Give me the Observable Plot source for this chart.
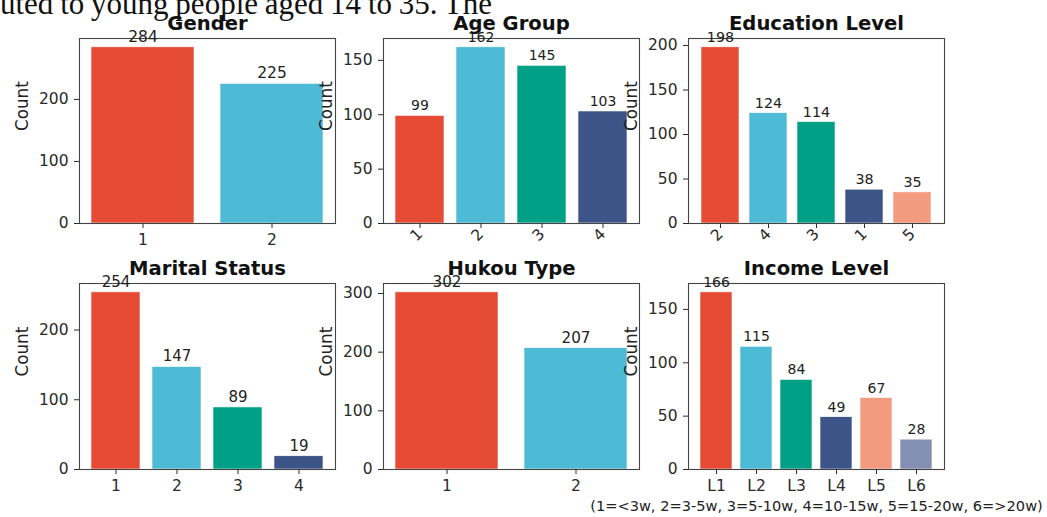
<!DOCTYPE html>
<html><head><meta charset="utf-8">
<script src="https://cdn.jsdelivr.net/npm/d3@7"></script>
<script src="https://cdn.jsdelivr.net/npm/@observablehq/plot@0.6"></script>
<style>
html,body{margin:0;padding:0;background:#fff;}
#root{position:relative;width:1047px;height:517px;overflow:hidden;background:#fff;}
.panel{position:absolute;}
</style></head><body><div id="root"></div>
<script>
// ---- data ----
const palette = ["#E64B35", "#4DBBD5", "#00A087", "#3C5488", "#F39B7F", "#8491B4"];

const genderCats = ["1", "2"];
const genderCounts = [284, 225];
const genderTicks = [0, 100, 200];

const ageCats = ["1", "2", "3", "4"];
const ageCounts = [99, 162, 145, 103];
const ageTicks = [0, 50, 100, 150];

const eduCats = ["2", "4", "3", "1", "5"];
const eduCounts = [198, 124, 114, 38, 35];
const eduTicks = [0, 50, 100, 150, 200];

const maritalCats = ["1", "2", "3", "4"];
const maritalCounts = [254, 147, 89, 19];
const maritalTicks = [0, 100, 200];

const hukouCats = ["1", "2"];
const hukouCounts = [302, 207];
const hukouTicks = [0, 100, 200, 300];

const incomeCats = ["L1", "L2", "L3", "L4", "L5", "L6"];
const incomeCounts = [166, 115, 84, 49, 67, 28];
const incomeTicks = [0, 50, 100, 150];

const panelTitles = ["Gender", "Age Group", "Education Level", "Marital Status", "Hukou Type", "Income Level"];
const yLabel = "Count";
const incomeNote = "(1=<3w, 2=3-5w, 3=5-10w, 4=10-15w, 5=15-20w, 6=>20w)";
const bodyText = "uted to young people aged 14 to 35. The";

// ---- layout ----
const root = document.getElementById("root");
const FONT = "'DejaVu Sans', sans-serif";
const TICK_FS = "15.5px";

function panel(o) {
  const n = o.cats.length;
  const data = o.cats.map((c, i) => ({cat: c, count: o.counts[i], color: palette[i]}));
  const ML = 75, MR = o.mr ?? 30, MT = 40, MB = 50, W = 256, H = o.h;
  const max = d3.max(o.counts) * 1.05;
  const marks = [
    Plot.barY(data, {x: "cat", y: "count", fill: "color", stroke: "white", strokeWidth: 0.6}),
    Plot.frame({stroke: "#444", strokeWidth: 1.1}),
    Plot.axisY({ticks: o.ticks, tickSize: 5, tickPadding: 6, label: null, fontSize: TICK_FS}),
    Plot.axisX({tickSize: 5, tickPadding: o.rot ? 3 : 5, tickRotate: o.rot ? -45 : 0,
      ...(o.rot ? {textAnchor: "end"} : {}), label: null, fontSize: TICK_FS}),
    Plot.text(data, {x: "cat", y: "count", text: d => String(d.count), dy: -5.5, lineAnchor: "bottom", fontSize: o.vs, fill: "#222"}),
    Plot.text([o.title], {text: d => d, frameAnchor: "top", dy: -9, lineAnchor: "bottom", fontWeight: "bold", fontSize: "19.6px", fill: "#111"}),
    Plot.text([yLabel], {text: d => d, frameAnchor: "left", dx: -57, rotate: -90, fontSize: "16.8px", fill: "#222"})
  ];
  if (o.note) marks.push(Plot.text([o.note], {text: d => d, frameAnchor: "bottom", dy: 41, lineAnchor: "bottom", fontSize: "14.6px", fill: "#222"}));
  const svg = Plot.plot({
    width: ML + W + MR, height: MT + H + MB,
    marginLeft: ML, marginRight: MR, marginTop: MT, marginBottom: MB,
    style: {fontFamily: FONT, fontSize: "14px", color: "#2a2a2a", background: "transparent", overflow: "visible"},
    x: {domain: o.cats, paddingInner: 0.2, paddingOuter: 0.05 * (n - 0.2), label: null},
    y: {domain: [0, max], label: null},
    color: {type: "identity"},
    marks
  });
  svg.classList.add("panel");
  svg.style.left = (o.left - ML) + "px";
  svg.style.top = (o.top - MT) + "px";
  root.appendChild(svg);
}

const colLeft = [79, 383, 688];
const rowTop = [38, 283];
const rowH = [185, 186];

panel({title: panelTitles[0], cats: genderCats, counts: genderCounts, ticks: genderTicks, left: colLeft[0], top: rowTop[0], h: rowH[0], vs: "15.5px"});
panel({title: panelTitles[1], cats: ageCats, counts: ageCounts, ticks: ageTicks, left: colLeft[1], top: rowTop[0], h: rowH[0], vs: "14px", rot: true});
panel({title: panelTitles[2], cats: eduCats, counts: eduCounts, ticks: eduTicks, left: colLeft[2], top: rowTop[0], h: rowH[0], vs: "14.3px", rot: true});
panel({title: panelTitles[3], cats: maritalCats, counts: maritalCounts, ticks: maritalTicks, left: colLeft[0], top: rowTop[1], h: rowH[1], vs: "15px"});
panel({title: panelTitles[4], cats: hukouCats, counts: hukouCounts, ticks: hukouTicks, left: colLeft[1], top: rowTop[1], h: rowH[1], vs: "15.2px"});
panel({title: panelTitles[5], cats: incomeCats, counts: incomeCounts, ticks: incomeTicks, left: colLeft[2], top: rowTop[1], h: rowH[1], vs: "14px", note: incomeNote, mr: 110});

// ---- cropped body text at top ----
const headSvg = d3.select(root).append("svg")
  .attr("width", 1047).attr("height", 22)
  .style("position", "absolute").style("left", "0px").style("top", "0px").style("overflow", "hidden");
const headText = headSvg.append("text")
  .attr("x", 0).attr("y", 14)
  .style("font-family", "'Liberation Serif', serif").style("font-size", "31px").attr("fill", "#111")
  .text(bodyText);
const naturalW = headText.node().getComputedTextLength();
const spaceCount = (bodyText.match(/ /g) || []).length;
headText.style("word-spacing", ((492 - naturalW) / spaceCount) + "px");
</script>
</body></html>
